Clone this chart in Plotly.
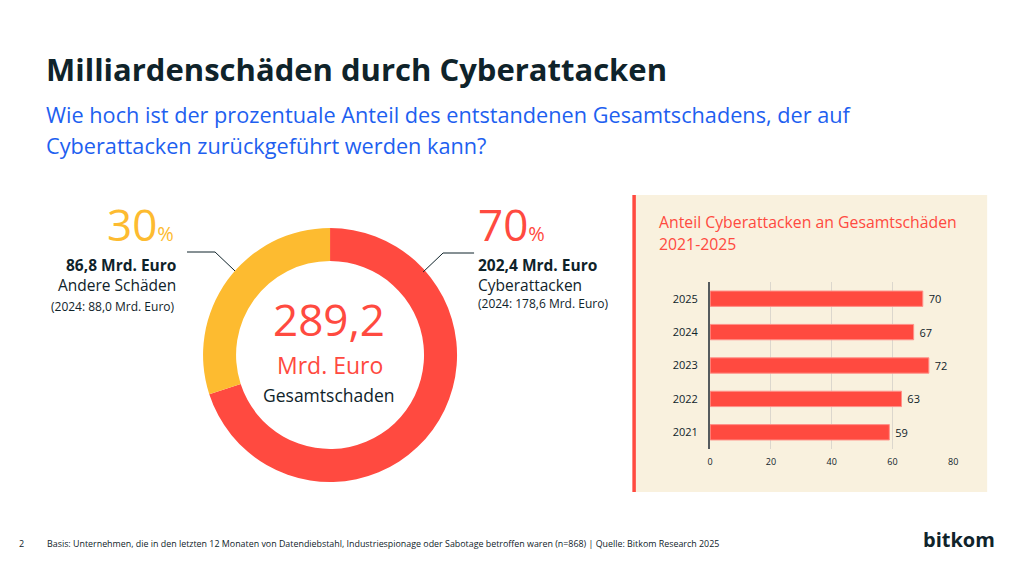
import plotly.graph_objects as go

# donut data
donut_labels = ["Cyberattacken", "Andere Schäden"]
donut_values = [70, 30]

# bar data (share of cyber attacks in total damage, %)
years = ["2021", "2022", "2023", "2024", "2025"]
shares = [59, 63, 72, 67, 70]
x_ticks = [0, 20, 40, 60, 80]

W, H = 1020, 574
# the page is shown with a small offset/scale, compensated here
OX, SX, OY = 11, 0.992, 8
RED = "#FF4A40"
YELLOW = "#FDBB30"
DARK = "#0F232A"
BLUE = "#1E5FF0"
BEIGE = "#F9F1DE"
FONT = "Open Sans"


def px(x):
    return (x - OX) / SX / W


def py(y):
    return 1 - (y - OY) / H


fig = go.Figure()

fig.add_trace(go.Pie(
    labels=donut_labels,
    values=donut_values,
    hole=0.74,
    sort=False,
    direction="clockwise",
    rotation=0,
    marker=dict(colors=[RED, YELLOW], line=dict(width=0)),
    textinfo="none",
    hoverinfo="label+percent",
    showlegend=False,
    domain=dict(x=[px(203), px(457)], y=[py(482), py(228)]),
))

fig.add_trace(go.Bar(
    y=years,
    x=shares,
    orientation="h",
    width=0.46,
    marker=dict(color=RED, line=dict(color="#FF9088", width=1)),
    text=shares,
    texttemplate=" %{text}",
    textposition="outside",
    textfont=dict(size=11, color=DARK, family=FONT),
    cliponaxis=False,
    showlegend=False,
    hoverinfo="x+y",
))

fig.update_layout(
    width=W,
    height=H,
    margin=dict(l=0, r=0, t=0, b=0),
    paper_bgcolor="white",
    plot_bgcolor="rgba(0,0,0,0)",
    font=dict(family=FONT, color=DARK),
    xaxis=dict(
        domain=[px(710), px(953)],
        range=[0, 80],
        tickvals=x_ticks,
        showgrid=True,
        gridcolor="#DCD7CD",
        gridwidth=1,
        zeroline=False,
        showline=False,
        tickfont=dict(size=9, color=DARK),
        ticklabelstandoff=6,
        fixedrange=True,
    ),
    yaxis=dict(
        domain=[py(449), py(282)],
        type="category",
        categoryorder="array",
        categoryarray=years,
        showgrid=False,
        zeroline=False,
        showline=True,
        linecolor="#555B5E",
        linewidth=2,
        tickfont=dict(size=11, color=DARK),
        ticklabelstandoff=8,
        fixedrange=True,
    ),
    bargap=0.5,
)

# beige panel and red accent line
fig.add_shape(type="rect", xref="paper", yref="paper",
              x0=px(634), x1=px(987), y0=py(492), y1=py(195),
              fillcolor=BEIGE, line=dict(width=0), layer="below")
fig.add_shape(type="line", xref="paper", yref="paper",
              x0=px(634), x1=px(634), y0=py(492), y1=py(195),
              line=dict(color=RED, width=3.5), layer="below")

# leader lines
fig.add_shape(type="path", xref="paper", yref="paper",
              path=f"M {px(187)},{py(252)} L {px(215)},{py(252)} L {px(235)},{py(271)}",
              line=dict(color=DARK, width=1))
fig.add_shape(type="path", xref="paper", yref="paper",
              path=f"M {px(474)},{py(253)} L {px(443)},{py(253)} L {px(423)},{py(272)}",
              line=dict(color=DARK, width=1))

SHIFT = {"left": 3, "right": -1, "center": 0}


def text(x, y, s, size, color=DARK, anchor="left", weight="normal"):
    fig.add_annotation(
        x=px(x - SHIFT[anchor]), y=py(y - 2), xref="paper", yref="paper",
        text=s, showarrow=False, xanchor=anchor, yanchor="middle",
        font=dict(family=FONT, size=size, color=color, weight=weight),
    )


# title block
text(47, 71, "Milliardenschäden durch Cyberattacken", 31, DARK, weight="bold")
text(47, 116, "Wie hoch ist der prozentuale Anteil des entstandenen Gesamtschadens, der auf", 21.7, BLUE)
text(47, 147, "Cyberattacken zurückgeführt werden kann?", 21.7, BLUE)

# left label
text(175, 226, "30<span style='font-size:20px'>%</span>", 44, YELLOW, anchor="right")
text(177, 267, "86,8 Mrd. Euro", 15.5, DARK, anchor="right", weight="bold")
text(177, 287, "Andere Schäden", 15.5, DARK, anchor="right")
text(176, 308, "(2024: 88,0 Mrd. Euro)", 12, DARK, anchor="right")

# right label
text(479, 226, "70<span style='font-size:20px'>%</span>", 44, RED)
text(479, 267, "202,4 Mrd. Euro", 15.5, DARK, weight="bold")
text(479, 287, "Cyberattacken", 15.5, DARK)
text(479, 305, "(2024: 178,6 Mrd. Euro)", 12, DARK)

# donut centre
text(329, 321, "289,2", 44, RED, anchor="center")
text(330, 367, "Mrd. Euro", 23, RED, anchor="center")
text(329, 397, "Gesamtschaden", 17.5, DARK, anchor="center")

# panel title
text(660, 224, "Anteil Cyberattacken an Gesamtschäden", 15.8, RED)
text(660, 246, "2021-2025", 15.8, RED)

# footer
text(20, 545, "2", 9, DARK)
text(48, 545, "Basis: Unternehmen, die in den letzten 12 Monaten von Datendiebstahl, Industriespionage oder Sabotage betroffen waren (n=868) | Quelle: Bitkom Research 2025", 8.9, DARK)
text(996, 541, "bitkom", 20, DARK, anchor="right", weight="bold")

fig.write_html("out.html")
